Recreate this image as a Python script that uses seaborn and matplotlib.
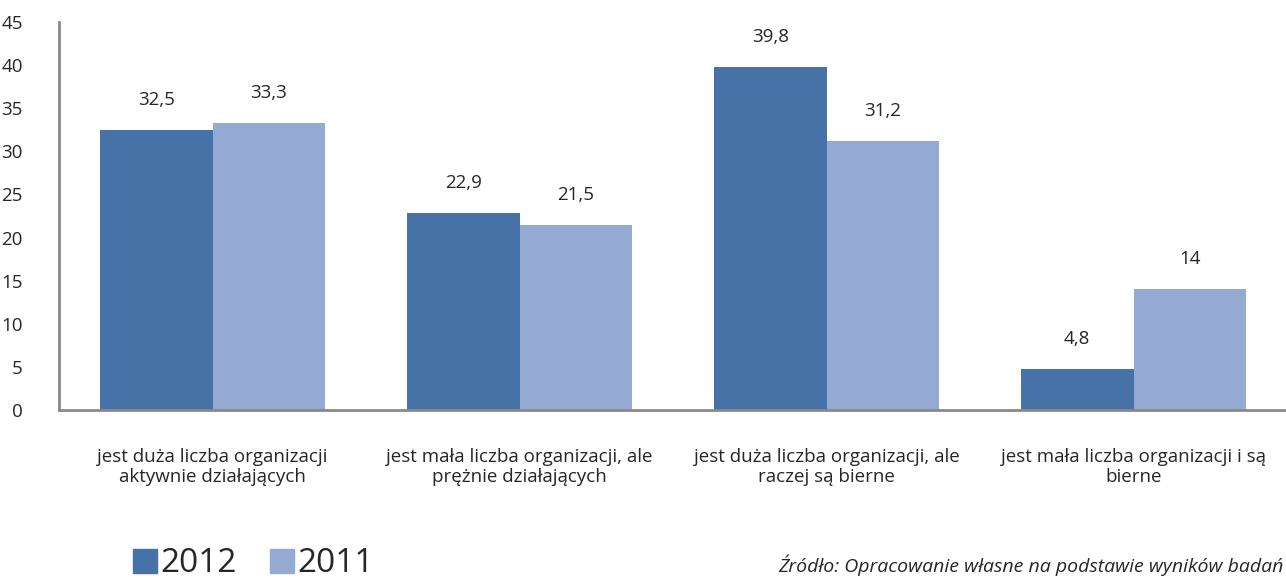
import matplotlib
matplotlib.use("Agg")
import matplotlib.pyplot as plt
import seaborn as sns
import pandas as pd
from matplotlib.patches import Patch

categories = [
    "jest duża liczba organizacji\naktywnie działających",
    "jest mała liczba organizacji, ale\nprężnie działających",
    "jest duża liczba organizacji, ale\nraczej są bierne",
    "jest mała liczba organizacji i są\nbierne",
]
values_2012 = [32.5, 22.9, 39.8, 4.8]
values_2011 = [33.3, 21.5, 31.2, 14]
labels_2012 = ["32,5", "22,9", "39,8", "4,8"]
labels_2011 = ["33,3", "21,5", "31,2", "14"]
series = ["2012", "2011"]
yticks = [0, 5, 10, 15, 20, 25, 30, 35, 40, 45]

df = pd.DataFrame({
    "cat": categories * 2,
    "year": [series[0]] * 4 + [series[1]] * 4,
    "val": values_2012 + values_2011,
})

sns.set_theme(style="white")
plt.rcParams["font.family"] = ["Open Sans", "DejaVu Sans"]

fig = plt.figure(figsize=(12.86, 5.83), dpi=100)
ax = fig.add_axes([59 / 1286, 1 - 410 / 583, (1287 - 59) / 1286, (410 - 22) / 583])

palette = {"2012": "#4672A8", "2011": "#95AAD3"}
sns.barplot(data=df, x="cat", y="val", hue="year", hue_order=series,
            palette=palette, width=0.733, saturation=1, ax=ax, legend=False,
            linewidth=0)

ax.set_ylim(0, 45)
ax.set_xlim(-0.5, 3.5)
ax.set_yticks(yticks)
ax.set_yticklabels([str(t) for t in yticks], fontsize=13.5)
ax.tick_params(axis="y", length=0, pad=26)
ax.tick_params(axis="x", length=0, pad=27, labelsize=13.5)
for lbl in ax.get_xticklabels():
    lbl.set_linespacing(1.15)
ax.set_xlabel("")
ax.set_ylabel("")
for s in ["top", "right"]:
    ax.spines[s].set_visible(False)
for s in ["left", "bottom"]:
    ax.spines[s].set_color("#898989")
    ax.spines[s].set_linewidth(2)

all_labels = [labels_2012, labels_2011]
for cont, labs in zip(ax.containers, all_labels):
    ax.bar_label(cont, labels=labs, padding=15, fontsize=13.5)

handles = [Patch(color=palette[s], label=s) for s in series]
fig.legend(handles=handles, loc="center left", bbox_to_anchor=(133 / 1286, 1 - 564 / 583),
           ncol=2, frameon=False, fontsize=24, handlelength=0.72, handleheight=0.72,
           handletextpad=0.1, columnspacing=1.0, borderpad=0, borderaxespad=0)

fig.text(778 / 1286, 1 - 565 / 583, "Źródło: Opracowanie własne na podstawie wyników badań",
         fontsize=14, style="italic", va="center", ha="left")

fig.savefig("out.png", dpi=100)
